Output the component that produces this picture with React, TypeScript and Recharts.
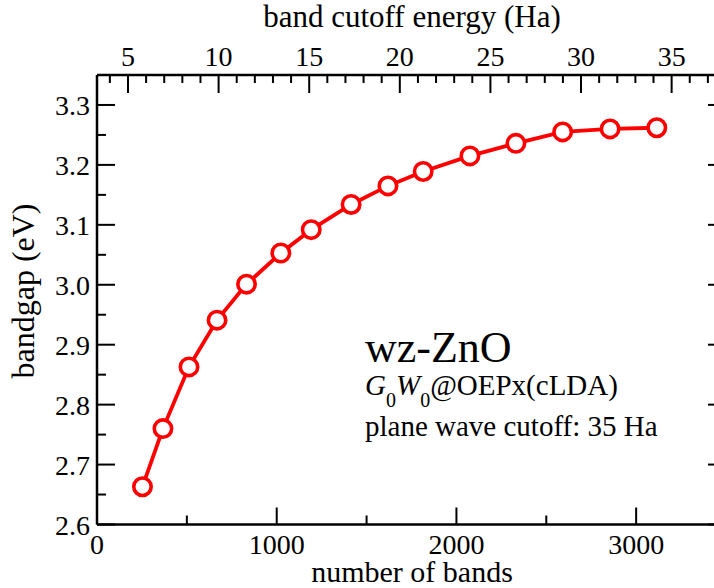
import React from "react";
import { LineChart, Line, XAxis, YAxis } from "recharts";

// number of bands vs GW bandgap (wz-ZnO)
const bands = [253, 367, 512, 668, 832, 1023, 1192, 1414, 1619, 1815, 2075, 2331, 2591, 2855, 3115];
const bandgap = [2.663, 2.76, 2.863, 2.941, 3.001, 3.053, 3.092, 3.134, 3.165, 3.189, 3.215, 3.236, 3.255, 3.26, 3.262];

const bandTicks = [0, 500, 1000, 1500, 2000, 2500, 3000, 3500];
const energyTicks = [4, 5, 6, 7, 8, 9, 10, 11, 12, 13, 14, 15, 16, 17, 18, 19, 20, 21, 22, 23, 24, 25, 26, 27, 28, 29, 30, 31, 32, 33, 34, 35, 36, 37, 38];
const gapTicks = [2.6, 2.65, 2.7, 2.75, 2.8, 2.85, 2.9, 2.95, 3.0, 3.05, 3.1, 3.15, 3.2, 3.25, 3.3, 3.35];

const BAND_RANGE = [0, 3500];
const ENERGY_RANGE = [3.29, 38];

const data = bands.map((b, i) => ({ bands: b, gap: bandgap[i] }));

// top axis is a linear relabelling of the bottom one
const energyToBands = (e: number) =>
  ((e - ENERGY_RANGE[0]) / (ENERGY_RANGE[1] - ENERGY_RANGE[0])) * (BAND_RANGE[1] - BAND_RANGE[0]) + BAND_RANGE[0];
const bandsToEnergy = (b: number) =>
  ((b - BAND_RANGE[0]) / (BAND_RANGE[1] - BAND_RANGE[0])) * (ENERGY_RANGE[1] - ENERGY_RANGE[0]) + ENERGY_RANGE[0];

const FONT = "'Liberation Serif', 'Times New Roman', serif";
const RED = "#ff0000";
const TICK_FS = 28;
const textStyle = { fontFamily: FONT };

const isMajorGap = (v: number) => Math.abs(v * 10 - Math.round(v * 10)) < 1e-6;

function BottomTick({ x, y, payload }: any) {
  const major = payload.value % 1000 === 0;
  return (
    <g>
      <line x1={x} x2={x} y1={y} y2={y - (major ? 17 : 9)} stroke="#000" strokeWidth={2} />
      {major && (
        <text x={x} y={y + 29} textAnchor="middle" style={textStyle} fontSize={TICK_FS} fill="#000">
          {payload.value}
        </text>
      )}
    </g>
  );
}

function TopTick({ x, y, payload }: any) {
  const e = Math.round(bandsToEnergy(payload.value));
  const major = e % 5 === 0;
  return (
    <g>
      <line x1={x} x2={x} y1={y} y2={y + (major ? 18 : 8)} stroke="#000" strokeWidth={2} />
      {major && (
        <text x={x} y={y - 9} textAnchor="middle" style={textStyle} fontSize={TICK_FS} fill="#000">
          {e}
        </text>
      )}
    </g>
  );
}

function LeftTick({ x, y, payload }: any) {
  const major = isMajorGap(payload.value);
  return (
    <g>
      <line x1={x} x2={x + (major ? 18 : 9)} y1={y} y2={y} stroke="#000" strokeWidth={2} />
      {major && (
        <text x={x - 7} y={y + 10} textAnchor="end" style={textStyle} fontSize={TICK_FS} fill="#000">
          {payload.value.toFixed(1)}
        </text>
      )}
    </g>
  );
}

function RightTick({ x, y, payload }: any) {
  const major = isMajorGap(payload.value);
  return <line x1={x} x2={x - (major ? 18 : 9)} y1={y} y2={y} stroke="#000" strokeWidth={2} />;
}

const axisLine = { stroke: "#000", strokeWidth: 2.5 };

export default function App() {
  return (
    <div style={{ position: "absolute", left: 0, top: 0, width: 714, height: 588, overflow: "hidden", background: "#fff" }}>
      <LineChart
        width={760}
        height={588}
        data={data}
        margin={{ top: 74, left: 96, right: 33, bottom: 62.5 }}
      >
        <XAxis
          xAxisId="bottom"
          dataKey="bands"
          type="number"
          domain={BAND_RANGE}
          allowDataOverflow
          ticks={bandTicks}
          interval={0}
          height={1}
          tickSize={0}
          tickMargin={0}
          axisLine={axisLine}
          tickLine={false}
          tick={<BottomTick />}
        />
        <XAxis
          xAxisId="top"
          orientation="top"
          dataKey="bands"
          type="number"
          domain={BAND_RANGE}
          allowDataOverflow
          ticks={energyTicks.map(energyToBands)}
          interval={0}
          height={1}
          tickSize={0}
          tickMargin={0}
          axisLine={axisLine}
          tickLine={false}
          tick={<TopTick />}
        />
        <YAxis
          yAxisId="left"
          type="number"
          domain={[2.6, 3.35]}
          allowDataOverflow
          ticks={gapTicks}
          interval={0}
          width={1}
          tickSize={0}
          tickMargin={0}
          axisLine={axisLine}
          tickLine={false}
          tick={<LeftTick />}
        />
        <YAxis
          yAxisId="right"
          orientation="right"
          type="number"
          domain={[2.6, 3.35]}
          allowDataOverflow
          ticks={gapTicks}
          interval={0}
          width={1}
          tickSize={0}
          tickMargin={0}
          axisLine={axisLine}
          tickLine={false}
          tick={<RightTick />}
        />
        <Line
          xAxisId="bottom"
          yAxisId="left"
          dataKey="gap"
          stroke={RED}
          strokeWidth={3.8}
          dot={{ r: 8.7, fill: "#fff", stroke: RED, strokeWidth: 3.6 }}
          isAnimationActive={false}
        />
      </LineChart>
      <svg
        width={714}
        height={588}
        style={{ position: "absolute", left: 0, top: 0, pointerEvents: "none", fontFamily: FONT }}
      >
        <text x={412} y={27} textAnchor="middle" fontSize={31}>band cutoff energy (Ha)</text>
        <text x={412} y={582} textAnchor="middle" fontSize={30}>number of bands</text>
        <text x={34} y={291} textAnchor="middle" fontSize={32} transform="rotate(-90 34 291)">bandgap (eV)</text>
        <text x={365} y={362} fontSize={44}>wz-ZnO</text>
        <text x={365} y={395} fontSize={29}>
          <tspan fontStyle="italic">G</tspan>
          <tspan fontSize={20} dy={12}>0</tspan>
          <tspan fontStyle="italic" dy={-12}>W</tspan>
          <tspan fontSize={20} dy={12}>0</tspan>
          <tspan dy={-12}>@OEPx(cLDA)</tspan>
        </text>
        <text x={365} y={436} fontSize={29}>plane wave cutoff: 35 Ha</text>
      </svg>
    </div>
  );
}
